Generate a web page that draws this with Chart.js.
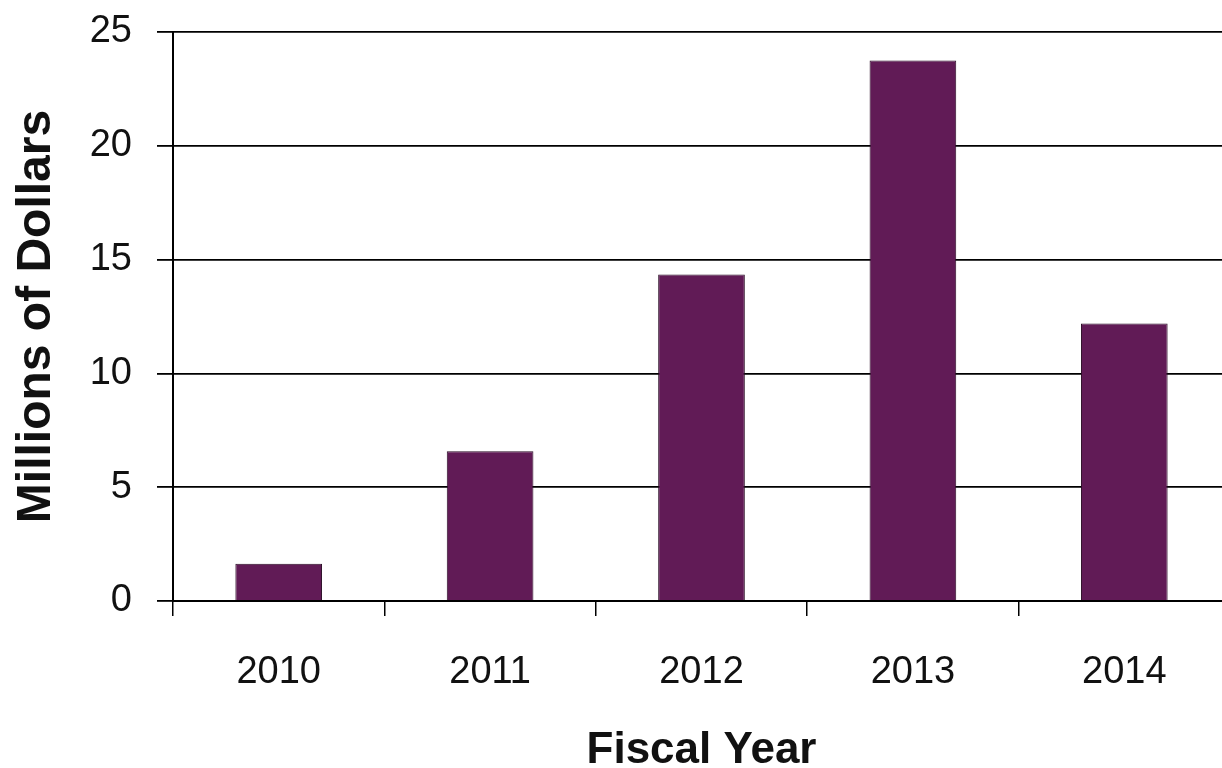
<!DOCTYPE html>
<html>
<head>
<meta charset="utf-8">
<script src="https://cdn.jsdelivr.net/npm/chart.js@4"></script>
<style>
  html, body { margin: 0; padding: 0; background: #fff; overflow: hidden; }
  #wrap { position: absolute; left: 0; top: 0; width: 1240px; height: 780px; }
</style>
</head>
<body>
<div id="wrap"><canvas id="fundingChart"></canvas></div>
<script>
// Dados do gráfico
const fiscalYears = ['2010', '2011', '2012', '2013', '2014'];
const millionsOfDollars = [1.64, 6.58, 14.35, 23.75, 12.19];
const yTicks = [0, 5, 10, 15, 20, 25];

const fontFamily = '"Liberation Sans", Arial, Helvetica, sans-serif';
const ink = '#111111';

document.addEventListener('DOMContentLoaded', function() {
    const ctx = document.getElementById('fundingChart').getContext('2d');
    new Chart(ctx, {
        type: 'bar',
        data: {
            labels: fiscalYears,
            datasets: [{
                data: millionsOfDollars,
                backgroundColor: '#611b56',
                borderColor: '#2a0c25',
                borderWidth: 1,
                barPercentage: 0.41,
                categoryPercentage: 1.0
            }]
        },
        options: {
            responsive: true,
            maintainAspectRatio: false,
            animation: false,
            layout: { padding: { top: 32, right: 10, bottom: 0, left: 0 } },
            plugins: {
                legend: { display: false },
                tooltip: { enabled: false }
            },
            scales: {
                x: {
                    afterFit: function(scale) { scale.height = 179; },
                    grid: {
                        offset: true,
                        drawOnChartArea: false,
                        drawTicks: true,
                        tickLength: 15,
                        color: '#000',
                        lineWidth: 1.5
                    },
                    border: { display: true, color: '#000', width: 2 },
                    ticks: {
                        color: ink,
                        padding: 38,
                        font: { family: fontFamily, size: 38, lineHeight: 1 }
                    },
                    title: {
                        display: true,
                        text: 'Fiscal Year',
                        color: ink,
                        padding: { top: 0, bottom: 7 },
                        font: { family: fontFamily, size: 44, weight: 'bold', lineHeight: 1 }
                    }
                },
                y: {
                    min: 0,
                    max: 25,
                    afterFit: function(scale) {
                        scale.width = 173;
                        // a folga dos rótulos fica por conta do layout.padding
                        scale.paddingTop = 0;
                        scale.paddingBottom = 0;
                    },
                    afterBuildTicks: function(scale) {
                        scale.ticks = yTicks.map(v => ({ value: v }));
                    },
                    grid: {
                        color: '#000',
                        lineWidth: 1.8,
                        drawTicks: true,
                        tickLength: 16
                    },
                    border: { display: true, color: '#000', width: 2 },
                    ticks: {
                        color: ink,
                        padding: 25,
                        font: { family: fontFamily, size: 38, lineHeight: 1 }
                    },
                    title: {
                        display: true,
                        text: 'Millions of Dollars',
                        color: ink,
                        padding: { top: 13, bottom: 0 },
                        font: { family: fontFamily, size: 48, weight: 'bold', lineHeight: 1 }
                    }
                }
            }
        }
    });
});
</script>
</body>
</html>
